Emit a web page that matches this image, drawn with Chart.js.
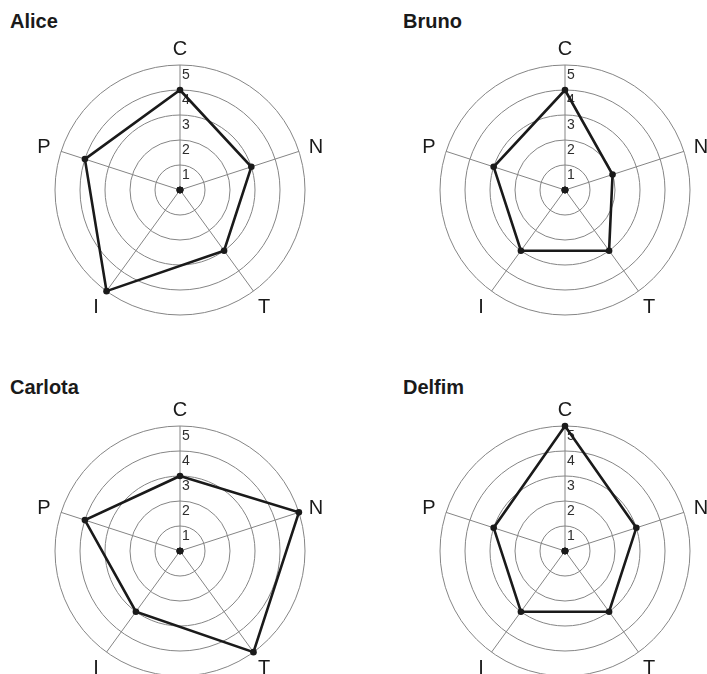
<!DOCTYPE html>
<html><head><meta charset="utf-8">
<script src="https://cdn.jsdelivr.net/npm/chart.js@4.4.0/dist/chart.umd.min.js"></script>
<style>
html,body{margin:0;padding:0;width:707px;height:674px;overflow:hidden;background:#fff;}
canvas{position:absolute;}
.t{position:absolute;font:bold 20px "Liberation Sans",Arial,sans-serif;line-height:20px;color:#1a1a1a;white-space:nowrap;}
</style></head><body>
<div class="t" style="left:10px;top:11px">Alice</div>
<div class="t" style="left:403px;top:11px">Bruno</div>
<div class="t" style="left:10px;top:377px">Carlota</div>
<div class="t" style="left:403px;top:377px">Delfim</div>
<canvas id="c0" width="360" height="360" style="left:0px;top:10px"></canvas>
<canvas id="c1" width="360" height="360" style="left:385px;top:10px"></canvas>
<canvas id="c2" width="360" height="360" style="left:0px;top:371px"></canvas>
<canvas id="c3" width="360" height="360" style="left:385px;top:371px"></canvas>
<script>
const categories = ['C', 'N', 'T', 'I', 'P'];
const names = ['Alice', 'Bruno', 'Carlota', 'Delfim'];
const alice = [4, 3, 3, 5, 4];
const bruno = [4, 2, 3, 3, 3];
const carlota = [3, 5, 5, 3, 4];
const delfim = [5, 3, 3, 3, 3];
const centerDot = [0, 0, 0, 0, 0];
const scaleMin = 0;
const scaleMax = 5;
const scaleStep = 1;

const series = [alice, bruno, carlota, delfim];

const labelPlugin = {
  id: 'customLabels',
  beforeDatasetsDraw(chart) {
    const s = chart.scales.r;
    const ctx = chart.ctx;
    ctx.save();
    ctx.font = '14px "Liberation Sans", Arial, sans-serif';
    ctx.fillStyle = '#2e2e2e';
    ctx.textAlign = 'left';
    ctx.textBaseline = 'alphabetic';
    s.ticks.forEach(t => {
      if (t.value <= 0) return;
      const d = s.getDistanceFromCenterForValue(t.value);
      ctx.fillText(String(t.label), s.xCenter + 2, s.yCenter - d + 14);
    });
    ctx.font = '20px "Liberation Sans", Arial, sans-serif';
    ctx.fillStyle = '#1a1a1a';
    ctx.textAlign = 'center';
    ctx.textBaseline = 'middle';
    chart.data.labels.forEach((c, i) => {
      const p = s.getPointPosition(i, s.drawingArea + 18);
      ctx.fillText(c, p.x, p.y + 2);
    });
    ctx.restore();
  }
};

series.forEach((vals, k) => {
  new Chart(document.getElementById('c' + k), {
    type: 'radar',
    data: {
      labels: categories,
      datasets: [
        {
          label: names[k],
          data: vals,
          borderColor: '#1a1a1a',
          borderWidth: 2.6,
          backgroundColor: 'rgba(0,0,0,0)',
          fill: false,
          tension: 0,
          pointRadius: 3.3,
          pointBackgroundColor: '#1a1a1a',
          pointBorderWidth: 0
        },
        {
          label: 'center',
          data: centerDot,
          showLine: false,
          borderWidth: 0,
          borderColor: 'rgba(0,0,0,0)',
          fill: false,
          pointRadius: 3.3,
          pointBackgroundColor: '#1a1a1a',
          pointBorderWidth: 0
        }
      ]
    },
    options: {
      responsive: false,
      animation: false,
      events: [],
      layout: { padding: 55 },
      plugins: { legend: { display: false }, tooltip: { enabled: false } },
      scales: {
        r: {
          min: scaleMin,
          max: scaleMax,
          startAngle: 0,
          ticks: { stepSize: scaleStep, display: false },
          grid: { circular: true, color: '#858585', lineWidth: 1 },
          angleLines: { display: true, color: '#858585', lineWidth: 1 },
          pointLabels: { display: false }
        }
      }
    },
    plugins: [labelPlugin]
  });
});
</script>
</body></html>
